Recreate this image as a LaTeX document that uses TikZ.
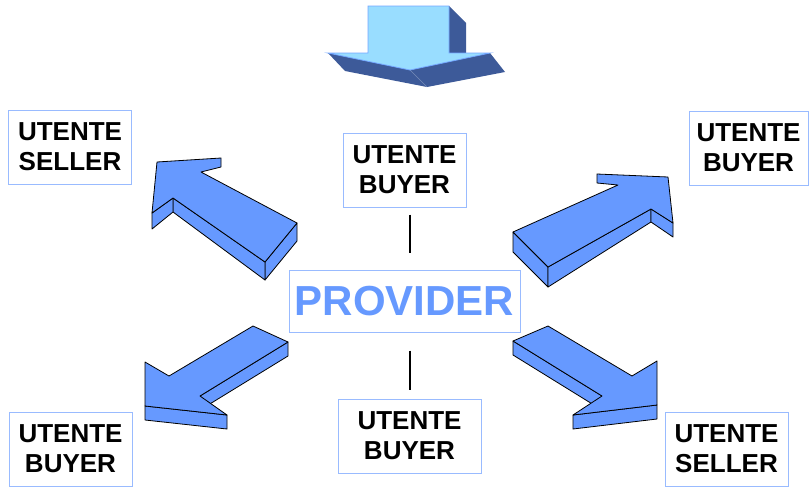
\documentclass[tikz,border=0pt]{standalone}
\usepackage{fontspec}
\setmainfont{Liberation Sans}
\definecolor{provblue}{RGB}{102,153,255}
\definecolor{boxblue}{RGB}{153,187,255}
\definecolor{skyface}{RGB}{153,221,255}
\definecolor{skyside}{RGB}{61,90,153}
\begin{document}
\begin{tikzpicture}[
    x=1pt, y=-1pt,
    box/.style={draw=boxblue,line width=1pt,minimum width=123pt,minimum height=74pt,
        inner sep=0pt,align=center,font=\fontsize{26}{30}\selectfont\bfseries},
    arr/.style={fill=provblue,draw=black,line width=0.8pt,line join=round},
    link/.style={line width=2pt}
]
\useasboundingbox (0,0) rectangle (810,488);

% top arrow
\fill[skyside] (449,6) -- (466,23) -- (466,53) -- (449,53) -- cycle;
\fill[skyside] (328,53) -- (410,70) -- (490,53) -- (505,72) -- (427,87) -- (345,71) -- cycle;
\draw[skyside!70!white,line width=0.5pt] (410,70) -- (427,87);
\filldraw[fill=skyface,draw=skyface!75!blue,line width=0.8pt]
    (368,6) -- (449,6) -- (449,53) -- (490,53) -- (410,70) -- (328,53) -- (368,53) -- cycle;

% upper left arrow
\draw[arr] (297,223) -- (265,262) -- (265,280) -- (297,241) -- cycle;
\draw[arr] (173,198) -- (265,262) -- (265,280) -- (173,212) -- cycle;
\draw[arr] (152,213) -- (173,198) -- (173,212) -- (152,229) -- cycle;
\draw[arr] (157,162) -- (221,158) -- (221,167) -- (201,172) -- (297,223)
    -- (265,262) -- (173,198) -- (152,213) -- cycle;

% upper right arrow
\draw[arr] (513,232) -- (548,267) -- (548,287) -- (513,252) -- cycle;
\draw[arr] (548,267) -- (651,209) -- (651,222) -- (548,287) -- cycle;
\draw[arr] (651,209) -- (673,223) -- (673,237) -- (651,222) -- cycle;
\draw[arr] (668,177) -- (673,223) -- (651,209) -- (548,267) -- (513,232)
    -- (618,185) -- (597,183) -- (597,174) -- cycle;

% lower left arrow
\draw[arr] (288,342) -- (288,356) -- (200,410) -- (200,396) -- cycle;
\draw[arr] (145,406) -- (227,415) -- (227,429) -- (145,420) -- cycle;
\draw[arr] (253,326) -- (288,342) -- (200,396) -- (227,415) -- (145,406)
    -- (145,362) -- (169,376) -- cycle;

% lower right arrow
\draw[arr] (513,341) -- (513,355) -- (602,410) -- (602,396) -- cycle;
\draw[arr] (573,415) -- (657,405) -- (657,419) -- (573,429) -- cycle;
\draw[arr] (548,326) -- (632,376) -- (657,361) -- (657,405) -- (573,415)
    -- (602,396) -- (513,341) -- cycle;

% boxes
\node[draw=boxblue,line width=1pt,minimum width=231pt,minimum height=62pt,inner sep=0pt,
    text=provblue,font=\fontsize{42}{42}\selectfont\bfseries] (prov) at (404.5,301) {PROVIDER};

\node[box] (s1) at (70,147) {UTENTE\\SELLER};
\node[box] (b1) at (404.5,170) {UTENTE\\BUYER};
\node[box,minimum width=119pt] (b2) at (748.5,148) {UTENTE\\BUYER};
\node[box] (b3) at (70.5,449) {UTENTE\\BUYER};
\node[box,minimum width=143pt] (b4) at (409.5,436) {UTENTE\\BUYER};
\node[box] (s2) at (726.5,449) {UTENTE\\SELLER};

\draw[link,shorten <=7pt,shorten >=17pt] (b1.south -| b4.center) -- (prov.north -| b4.center);
\draw[link,shorten <=18pt,shorten >=9pt] (prov.south -| b4.center) -- (b4.north);

\end{tikzpicture}
\end{document}
